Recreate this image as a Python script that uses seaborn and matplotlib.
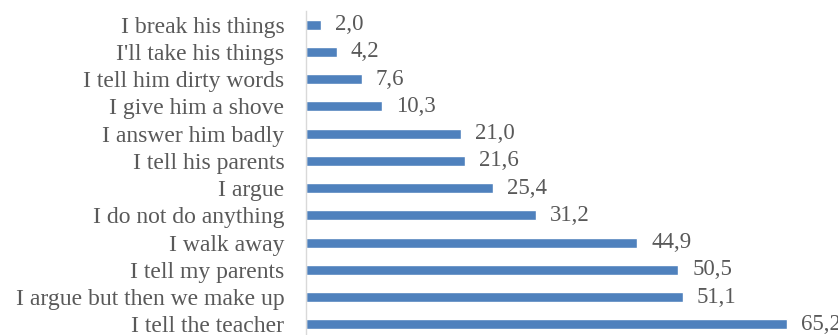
import matplotlib
matplotlib.use("Agg")
import matplotlib.pyplot as plt
import seaborn as sns
import pandas as pd

# Responses, top to bottom as shown in the chart
answers = ["I break his things", "I'll take his things", "I tell him dirty words",
           "I give him a shove", "I answer him badly", "I tell his parents",
           "I argue", "I do not do anything", "I walk away", "I tell my parents",
           "I argue but then we make up", "I tell the teacher"]
percent = [2.0, 4.2, 7.6, 10.3, 21.0, 21.6, 25.4, 31.2, 44.9, 50.5, 51.1, 65.2]

df = pd.DataFrame({"answer": answers, "percent": percent})

sns.set_style("white")
plt.rcParams["font.family"] = ["Liberation Serif", "DejaVu Serif"]
text_color = "#595959"

fig = plt.figure(figsize=(8.38, 3.35), dpi=100)
ax = fig.add_axes([306 / 838, -3 / 335, 531 / 838, 327 / 335])

sns.barplot(data=df, x="percent", y="answer", orient="h", color="#4F81BD",
            width=0.37, saturation=1, ax=ax)

labels = [f"{v:.1f}".replace(".", ",") for v in percent]
ax.bar_label(ax.containers[0], labels=labels, padding=10,
             fontsize=16.5, color=text_color, clip_on=False)

ax.set_xlim(0, 72)
ax.set_ylim(11.5, -0.5)
ax.set_xlabel("")
ax.set_ylabel("")
ax.set_xticks([])
ax.tick_params(axis="y", length=0, pad=15.5, labelsize=17, labelcolor=text_color)

for side in ["top", "right", "bottom"]:
    ax.spines[side].set_visible(False)
ax.spines["left"].set_color("#D9D9D9")
ax.spines["left"].set_linewidth(1.0)

fig.savefig("out.png", dpi=100)
